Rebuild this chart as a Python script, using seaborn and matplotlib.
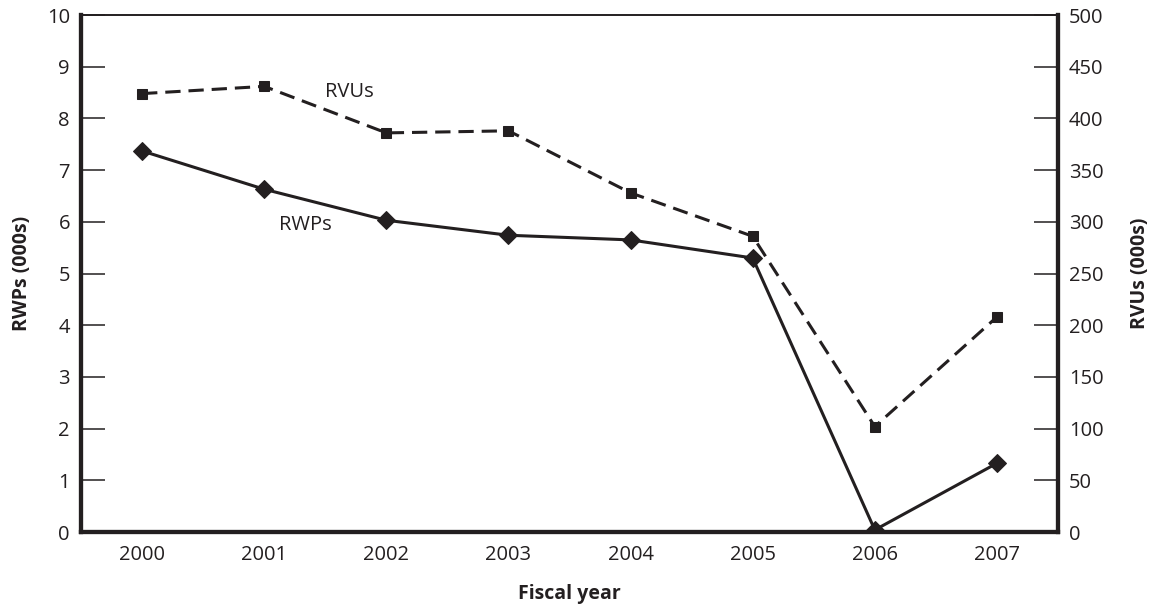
import matplotlib
matplotlib.use("Agg")
import matplotlib.pyplot as plt
import seaborn as sns
import pandas as pd

years = ["2000", "2001", "2002", "2003", "2004", "2005", "2006", "2007"]
rwps = [7.37, 6.63, 6.03, 5.74, 5.65, 5.30, 0.04, 1.33]
rvus = [424, 431, 386, 388, 328, 286, 102, 208]

sns.set_style("white")
plt.rcParams['font.family'] = ['Open Sans', 'DejaVu Sans']

INK = "#231f20"
df = pd.DataFrame({"year": years, "x": range(len(years)), "RWPs": rwps, "RVUs": rvus})

fig = plt.figure(figsize=(11.53, 6.08), dpi=100)
ax = fig.add_axes([0.0703, 0.125, 0.9176 - 0.0703, 0.9753 - 0.125])
ax2 = ax.twinx()

sns.lineplot(data=df, x="x", y="RWPs", ax=ax, color=INK, lw=2.2, marker="D",
             markersize=9, markeredgecolor=INK, markerfacecolor=INK, zorder=3)
sns.lineplot(data=df, x="x", y="RVUs", ax=ax2, color=INK, lw=2.2, marker="s",
             markersize=7.5, markeredgecolor=INK, markerfacecolor=INK,
             dashes=False, linestyle=(0, (5, 2.6)), zorder=3)

ax.set_xlim(-0.5, len(years) - 0.5)
ax.set_ylim(0, 10)
ax2.set_ylim(0, 500)
ax.set_yticks(range(0, 11))
ax2.set_yticks(range(0, 501, 50))

FS = 14.5
ax.set_xticks(range(len(years)))
ax.set_xticklabels(years)
ax.tick_params(axis="x", which="major", length=0, labelsize=FS, colors=INK, pad=9)
ax.set_xticks([i + 0.5 for i in range(len(years) - 1)], minor=True)
ax.tick_params(axis="x", which="minor", direction="in", length=16, width=1.1, color=INK)

ax.tick_params(axis="y", direction="in", length=17, width=1.1, color=INK,
               labelsize=FS, labelcolor=INK, pad=8)
ax2.tick_params(axis="y", direction="in", length=17, width=1.1, color=INK,
                labelsize=FS, labelcolor=INK, pad=8)

for a in (ax, ax2):
    for s in a.spines.values():
        s.set_color(INK)
        s.set_visible(True)
    a.spines["left"].set_linewidth(3)
    a.spines["right"].set_linewidth(3)
    a.spines["bottom"].set_linewidth(3)
    a.spines["top"].set_linewidth(1.2)
    a.grid(False)

ax.set_xlabel("Fiscal year", fontsize=14, fontweight="bold", color=INK, labelpad=14)
ax.set_ylabel("RWPs (000s)", fontsize=14, fontweight="bold", color=INK, labelpad=11)
ax2.set_ylabel("RVUs (000s)", fontsize=14, fontweight="bold", color=INK, labelpad=19)

ax.text(1.70, 8.51, "RVUs", fontsize=FS, color=INK, ha="center", va="center")
ax.text(1.34, 5.94, "RWPs", fontsize=FS, color=INK, ha="center", va="center")

fig.savefig("out.png", dpi=100)
